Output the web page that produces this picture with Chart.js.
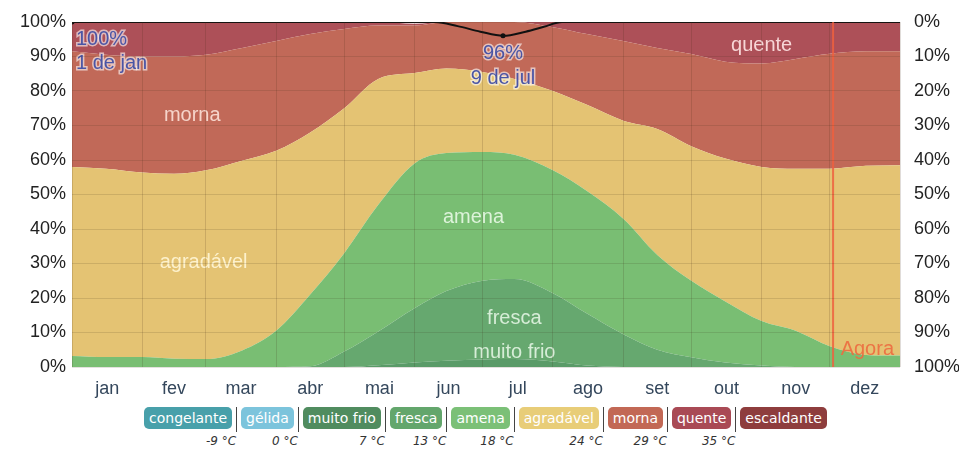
<!DOCTYPE html>
<html>
<head>
<meta charset="utf-8">
<script src="https://cdn.jsdelivr.net/npm/chart.js@4.4.1/dist/chart.umd.min.js"></script>
<style>
  body { margin: 0; background: #fff; }
  #wrap { position: relative; width: 959px; height: 450px; overflow: hidden; }
  #legend { position: absolute; left: 144px; top: 407px; display: flex; align-items: flex-start;
            font-family: "DejaVu Sans", sans-serif; }
  .box { height: 22px; line-height: 22px; padding: 0 5px; border-radius: 5px; color: #fff;
         font-size: 14px; white-space: nowrap; }
  .sep { position: relative; width: 1px; height: 25px; background: #444; margin: 0 4px; }
  .sep span { position: absolute; top: 27px; right: 1px; white-space: nowrap; font-style: italic;
              font-size: 12px; color: #333; }
</style>
</head>
<body>
<div id="wrap">
  <canvas id="chart" width="959" height="400"></canvas>
  <div id="legend"></div>
</div>
<script>
const days = [0, 15, 31, 45, 59, 75, 90, 105, 120, 135, 151, 165, 181, 195, 212, 227, 243, 258, 273, 288, 304, 319, 334, 350, 365];

// % of time in each band (bottom to top)
const muitoFrio = [0, 0, 0, 0, 0, 0, 0, 0, 0, 0.5, 1.3, 1.8, 2.2, 2.3, 1.6, 0.4, 0, 0, 0, 0, 0, 0, 0, 0, 0];
const fresca    = [0, 0, 0, 0, 0, 0, 0, 0.2, 4.5, 9.8, 15.7, 20.2, 22.8, 23.2, 19.8, 15.1, 9.5, 5, 2.8, 1.3, 0.4, 0, 0, 0, 0];
const amena     = [3.2, 2.9, 2.9, 2.4, 2.3, 4.8, 10.5, 20.8, 28.5, 36.7, 42, 40, 37.3, 36, 35.6, 35.5, 33.5, 27.5, 22.2, 17.7, 12.9, 10.5, 6, 3.5, 3.3];
const agradavel = [54.8, 54.6, 53.5, 53.6, 54.7, 55, 52.2, 47, 42, 36.5, 26.2, 24.5, 23.2, 22, 23, 25, 28.4, 36.5, 39, 41.4, 44.7, 47, 51.5, 54.8, 55.2];
const morna     = [33.5, 33, 33.6, 34, 33.5, 32.7, 31.8, 28.5, 23, 15.5, 13.8, 13.5, 14.5, 16.5, 18.5, 20.5, 23.1, 23.5, 26.7, 28.1, 30, 31.8, 33.3, 33.2, 33];
const quente    = [8.5, 9.5, 10, 10, 9.5, 7.5, 5.5, 3.5, 2, 1, 0.5, 0, 0, 0, 1.5, 3.5, 5.5, 7.5, 9.3, 11.5, 12, 10.7, 9.2, 8.5, 8.5];

// black line
const lineDays   = [0, 160, 170, 180, 190, 200, 208, 216, 365];
const lineValues = [100, 100, 98.8, 97.2, 96, 97.2, 98.6, 100, 100];

const monthNames  = ['jan', 'fev', 'mar', 'abr', 'mai', 'jun', 'jul', 'ago', 'set', 'out', 'nov', 'dez'];
const monthStarts = [0, 31, 59, 90, 120, 151, 181, 212, 243, 273, 304, 334, 365];
const nowDay = 335.5;

const legendNames  = ['congelante', 'gélida', 'muito frio', 'fresca', 'amena', 'agradável', 'morna', 'quente', 'escaldante'];
const legendColors = ['#48a0aa', '#7cc4dc', '#508c5f', '#63a66c', '#7bc077', '#e8cd78', '#c26855', '#a94a55', '#8e3d3d'];
const legendTemps  = ['-9 °C', '0 °C', '7 °C', '13 °C', '18 °C', '24 °C', '29 °C', '35 °C'];

const pts = arr => arr.map((v, i) => ({ x: days[i], y: v }));
const monthMids = monthNames.map((m, i) => (monthStarts[i] + monthStarts[i + 1]) / 2);

function band(label, arr, color, fill) {
  return {
    label, data: pts(arr), backgroundColor: color, borderWidth: 0, pointRadius: 0,
    fill, stack: 'bands', cubicInterpolationMode: 'monotone'
  };
}

const labelsPlugin = {
  id: 'labels',
  afterDatasetsDraw(chart) {
    const { ctx, scales: { x, y }, chartArea } = chart;
    ctx.save();
    // "agora" marker
    const nx = x.getPixelForValue(nowDay);
    ctx.strokeStyle = 'rgba(238,96,62,0.85)';
    ctx.lineWidth = 2;
    ctx.beginPath();
    ctx.moveTo(nx, chartArea.top);
    ctx.lineTo(nx, chartArea.bottom);
    ctx.stroke();

    ctx.font = '20px "Liberation Sans", Arial, sans-serif';
    ctx.textBaseline = 'middle';
    ctx.textAlign = 'center';
    const bandText = [
      ['morna', 53, 72.8, 'rgba(255,232,222,0.85)'],
      ['agradável', 58, 30.3, 'rgba(255,246,214,0.9)'],
      ['amena', 177, 43.4, 'rgba(232,248,230,0.9)'],
      ['fresca', 195, 14.2, 'rgba(226,244,226,0.9)'],
      ['muito frio', 195, 4.3, 'rgba(226,244,226,0.9)'],
      ['quente', 304, 93.2, 'rgba(255,228,228,0.9)']
    ];
    bandText.forEach(([t, d, v, c]) => {
      ctx.fillStyle = c;
      ctx.fillText(t, x.getPixelForValue(d), y.getPixelForValue(v));
    });

    ctx.fillStyle = 'rgba(236,108,64,0.9)';
    ctx.textAlign = 'right';
    ctx.fillText('Agora', chartArea.right - 6, y.getPixelForValue(5));

    const halo = (t, px, py) => {
      ctx.lineWidth = 3;
      ctx.strokeStyle = 'rgba(255,255,255,0.6)';
      ctx.strokeText(t, px, py);
      ctx.fillStyle = '#4a55a6';
      ctx.fillText(t, px, py);
    };
    ctx.font = '20px "Liberation Sans", Arial, sans-serif';
    ctx.textAlign = 'left';
    halo('100%', chartArea.left + 4, y.getPixelForValue(95));
    halo('1 de jan', chartArea.left + 4, y.getPixelForValue(88));
    ctx.textAlign = 'center';
    halo('96%', x.getPixelForValue(190), y.getPixelForValue(91));
    halo('9 de jul', x.getPixelForValue(190), y.getPixelForValue(83.5));
    ctx.restore();
  }
};

const tickFont = { family: '"Liberation Sans", Arial, sans-serif', size: 18 };

new Chart(document.getElementById('chart'), {
  type: 'line',
  data: {
    datasets: [
      {
        label: 'linha', data: lineDays.map((d, i) => ({ x: d, y: lineValues[i] })),
        borderColor: '#111', borderWidth: 2, fill: false, stack: 'line',
        pointRadius: c => (c.raw && (c.raw.x === 0 || c.raw.x === 190)) ? 2.5 : 0,
        pointBackgroundColor: '#111', pointBorderWidth: 0,
        cubicInterpolationMode: 'monotone'
      },
      band('muito frio', muitoFrio, '#5a9b68', 'origin'),
      band('fresca', fresca, '#66a86f', '-1'),
      band('amena', amena, '#79be73', '-1'),
      band('agradável', agradavel, '#e4c373', '-1'),
      band('morna', morna, '#c16958', '-1'),
      band('quente', quente, '#ad5058', '-1')
    ]
  },
  options: {
    responsive: false,
    animation: false,
    devicePixelRatio: 1,
    layout: { padding: { top: 22, left: 0, right: 0, bottom: 0 } },
    plugins: { legend: { display: false }, tooltip: { enabled: false } },
    scales: {
      x: {
        type: 'linear', min: 0, max: 365,
        afterBuildTicks: s => { s.ticks = monthStarts.map(v => ({ value: v })); },
        ticks: { display: false },
        grid: { color: 'rgba(60,40,20,0.16)', drawTicks: false, z: 1 },
        border: { display: false },
        afterFit: s => { s.height = 0; }
      },
      xl: {
        type: 'linear', position: 'bottom', min: 0, max: 365,
        afterBuildTicks: s => { s.ticks = monthMids.map(v => ({ value: v })); },
        ticks: { callback: (v, i) => monthNames[i], color: '#34475c', font: tickFont, padding: 3, maxRotation: 0, autoSkip: false },
        grid: { display: false },
        border: { display: false },
        afterFit: s => { s.height = 33; }
      },
      y: {
        stacked: true, min: 0, max: 100,
        ticks: { stepSize: 10, callback: v => v + '%', color: '#222', font: tickFont, padding: 6 },
        grid: { color: 'rgba(60,40,20,0.14)', drawTicks: false, z: 1 },
        border: { display: false },
        afterFit: s => { s.width = 72; }
      },
      y2: {
        position: 'right', min: 0, max: 100, reverse: true,
        ticks: { stepSize: 10, callback: v => v + '%', color: '#222', font: tickFont, padding: 6 },
        grid: { display: false },
        border: { display: false },
        afterFit: s => { s.width = 59; }
      }
    }
  },
  plugins: [labelsPlugin]
});

// legend strip under the chart
const legend = document.getElementById('legend');
legendNames.forEach((name, i) => {
  const b = document.createElement('div');
  b.className = 'box';
  b.style.background = legendColors[i];
  b.textContent = name;
  legend.appendChild(b);
  if (i < legendTemps.length) {
    const s = document.createElement('div');
    s.className = 'sep';
    s.innerHTML = '<span>' + legendTemps[i] + '</span>';
    legend.appendChild(s);
  }
});
</script>
</body>
</html>
